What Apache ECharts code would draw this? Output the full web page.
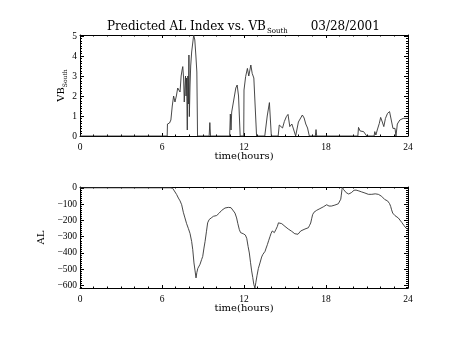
<!DOCTYPE html>
<html>
<head>
<meta charset="utf-8">
<script src="https://cdn.jsdelivr.net/npm/echarts@6/dist/echarts.min.js"></script>
<style>html,body{margin:0;padding:0;background:#fff}#c{width:454px;height:341px}</style>
</head>
<body>
<div id="c"></div>
<script>
// ---- data ----
const xTicks = [0, 6, 12, 18, 24];
const vbTicks = [0, 1, 2, 3, 4, 5];
const alTicks = [0, -100, -200, -300, -400, -500, -600];

const vbTime = [0, 6.38, 6.40, 6.55, 6.65, 6.75, 6.85, 6.95, 7.05, 7.15, 7.25, 7.32, 7.40, 7.47, 7.52, 7.58, 7.63, 7.68, 7.72, 7.76, 7.80, 7.85, 7.89, 7.93, 7.97, 8.00, 8.05, 8.10, 8.17, 8.24, 8.32, 8.40, 8.48, 8.55, 8.60,
  9.45, 9.50, 9.55, 10.95, 11.0, 11.05, 11.1, 11.2, 11.28, 11.4, 11.5, 11.6, 11.72, 11.98, 12.0, 12.12, 12.25, 12.35, 12.5, 12.6, 12.72, 12.85, 12.92,
  13.52, 13.7, 13.86, 14.0, 14.5, 14.58, 14.72, 14.82, 14.95, 15.1, 15.22, 15.35, 15.5, 15.62, 15.78, 15.9, 15.98, 16.1, 16.27, 16.4, 16.52, 16.65, 16.78,
  17.22, 17.27, 17.32, 20.33, 20.38, 20.5, 20.62, 20.75, 20.88, 20.98, 21.52, 21.57, 21.65, 21.75, 21.9, 22.0, 22.12, 22.23, 22.35, 22.5, 22.65, 22.78, 22.9, 23.05, 23.12, 23.15, 23.22, 23.4, 23.65, 24.0];
const vbValue = [0, 0, 0.6, 0.65, 0.8, 1.5, 2.0, 1.7, 2.0, 2.4, 2.3, 2.2, 3.0, 3.3, 3.47, 2.9, 1.7, 2.5, 3.0, 2.0, 2.9, 0.3, 3.0, 1.6, 4.05, 0.97, 2.5, 3.5, 4.2, 4.6, 5.05, 4.8, 4.0, 3.2, 0,
  0, 0.67, 0, 0, 1.1, 0.3, 1.2, 1.6, 1.5, 2.4, 2.55, 2.0, 0, 0, 2.3, 2.97, 3.38, 3.0, 3.55, 3.13, 2.9, 2.8, 0,
  0, 1.0, 1.67, 0, 0, 0.55, 0.6, 0.4, 0.72, 0.97, 1.08, 0.47, 0.6, 0.35, 0, 0, 0.7, 0.8, 1.05, 0.9, 0.6, 0.4, 0,
  0, 0.32, 0, 0, 0.43, 0.25, 0.3, 0.22, 0.2, 0, 0, 0.22, 0.05, 0.3, 0.63, 0.93, 0.7, 0.47, 0.88, 1.13, 1.22, 1.15, 0.38, 0.38, 0, 0, 0.6, 0.8, 0.88, 0.88];

const alTime = [0, 6.6, 6.78, 6.9, 7.07, 7.2, 7.32, 7.44, 7.56, 7.68, 7.8, 7.93, 8.05, 8.17, 8.25, 8.34, 8.42, 8.49, 8.55, 8.62, 8.78, 8.9, 8.98, 9.07, 9.15, 9.25, 9.34, 9.45, 9.6, 9.76, 9.9, 10.0, 10.19, 10.36, 10.5, 10.61, 10.85, 11.05, 11.17, 11.34, 11.46, 11.55, 11.66, 11.75, 11.95, 12.1, 12.2, 12.3, 12.39, 12.48, 12.56, 12.64, 12.72, 12.8, 12.87, 12.95,
  13.05, 13.17, 13.29, 13.37, 13.45, 13.54, 13.62, 13.71, 13.8, 13.9, 13.98, 14.07, 14.14, 14.22, 14.28, 14.34, 14.44, 14.52, 14.6, 14.76, 14.9, 15.0, 15.12, 15.24, 15.36, 15.49, 15.6, 15.72, 15.85, 15.95, 16.05, 16.15, 16.27, 16.46, 16.6, 16.71, 16.8, 16.88, 16.95,
  17.02, 17.12, 17.2, 17.32, 17.44, 17.55, 17.68, 17.8, 17.93, 18.05, 18.12, 18.22, 18.29, 18.4, 18.54, 18.65, 18.78, 18.9, 19.02, 19.08, 19.12, 19.17, 19.2, 19.28, 19.39, 19.48, 19.56, 19.66, 19.76, 19.85, 19.95,
  20.05, 20.12, 20.2, 20.29, 20.4, 20.49, 20.6, 20.73, 20.85, 20.98, 21.1, 21.22, 21.35, 21.46, 21.6, 21.71, 21.83, 21.95, 22.07, 22.19, 22.3, 22.39, 22.5, 22.56, 22.65, 22.73, 22.8, 22.88, 22.95, 23.05, 23.15, 23.29, 23.4, 23.54, 23.62, 23.71, 23.85, 24.0];
const alValue = [0, 0, -3, -15, -41, -63, -80, -104, -150, -185, -220, -250, -280, -330, -380, -461, -510, -553, -520, -495, -470, -440, -421, -370, -330, -270, -215, -195, -185, -175, -175, -170, -155, -139, -128, -124, -120, -122, -124, -155, -185, -220, -257, -275, -282, -290, -310, -360, -400, -460, -510, -550, -594, -615, -580, -540,
  -495, -461, -425, -410, -400, -390, -370, -349, -325, -300, -280, -265, -255, -275, -278, -255, -237, -215, -212, -220, -228, -237, -245, -253, -260, -267, -275, -282, -292, -285, -278, -265, -257, -253, -250, -245, -230, -216, -190,
  -165, -150, -145, -138, -130, -128, -124, -117, -110, -104, -105, -112, -114, -112, -110, -106, -104, -98, -93, -70, -45, -10, 5, -10, -22, -30, -36, -38, -40, -30, -22,
  -15, -12, -14, -16, -19, -22, -25, -28, -32, -36, -40, -42, -40, -38, -37, -38, -40, -44, -52, -63, -72, -77, -80, -83, -97, -114, -135, -155, -165, -171, -177, -185, -197, -212, -222, -232, -247, -255];

// minor tick positions for the AL axis (8 per major step)
const alMinor = [];
alTicks.forEach(t => { for (let k = 1; k < 8; k++) { const v = t - k * 12.5; if (v >= -615) alMinor.push(v); } });

// ---- chart ----
const SERIF = 'DejaVu Serif';
const LAB = 'Liberation Serif';
const black = '#000';

function xAx(grid, pos) {
  const lab = pos === 'bottom';
  return {
    type: 'value', gridIndex: grid, position: pos, min: 0, max: 24, interval: 6,
    axisLine: { show: true, onZero: false, lineStyle: { color: black, width: 1 } },
    axisTick: { show: true, inside: true, length: 3, lineStyle: { color: black } },
    minorTick: { show: true, splitNumber: 6, length: 1.5, lineStyle: { color: black } },
    splitLine: { show: false },
    axisLabel: { show: lab, fontFamily: LAB, fontSize: 9.5, color: black, margin: 6,
      formatter: v => xTicks.includes(v) ? String(v) : '' },
    name: lab ? 'time(hours)' : '', nameLocation: 'middle', nameGap: 15, nameMoveOverlap: false,
    nameTextStyle: { fontFamily: SERIF, fontSize: 10, color: black }
  };
}
const nameRich = {
  v: { fontFamily: SERIF, fontSize: 10, color: black, lineHeight: 12, verticalAlign: 'top' },
  s: { fontFamily: SERIF, fontSize: 6, color: black, lineHeight: 7, padding: [9, 0, 0, 0], verticalAlign: 'bottom' }
};
function vbAx(pos) {
  const lab = pos === 'left';
  return {
    type: 'value', gridIndex: 0, position: pos, min: 0, max: 5.05, interval: 1,
    axisLine: { show: true, onZero: false, lineStyle: { color: black, width: 1 } },
    axisTick: { show: true, inside: true, length: 4, lineStyle: { color: black } },
    minorTick: { show: true, splitNumber: 8, length: 2, lineStyle: { color: black } },
    splitLine: { show: false },
    axisLabel: { show: lab, fontFamily: LAB, fontSize: 9.5, color: black, margin: 3,
      formatter: v => vbTicks.includes(Math.round(v * 1000) / 1000) ? String(v) : '' },
    name: lab ? '{v|VB}{s|South}' : '', nameLocation: 'middle', nameRotate: 90, nameGap: 12,
    nameMoveOverlap: false,
    nameTextStyle: { fontFamily: SERIF, fontSize: 10, color: black, rich: nameRich }
  };
}
function alAx(pos, minor) {
  const lab = pos === 'left' && !minor;
  return {
    type: 'value', gridIndex: 1, position: pos, min: -615, max: 5,
    axisLine: { show: !minor, onZero: false, lineStyle: { color: black, width: 1 } },
    axisTick: { show: true, inside: true, length: minor ? 2 : 4, lineStyle: { color: black },
      customValues: minor ? alMinor : alTicks },
    splitLine: { show: false },
    axisLabel: { show: lab, fontFamily: LAB, fontSize: 9.5, color: black, margin: 3,
      customValues: alTicks, formatter: v => String(v).replace('-', '\u2212') },
    name: lab ? '{v|AL}' : '', nameLocation: 'middle', nameRotate: 90, nameGap: 32,
    nameMoveOverlap: false,
    nameTextStyle: { fontFamily: SERIF, fontSize: 10, color: black, rich: nameRich }
  };
}

const chart = echarts.init(document.getElementById('c'), null, { renderer: 'canvas' });
chart.setOption({
  animation: false,
  backgroundColor: '#fff',
  title: {
    text: '{m|Predicted AL Index vs. VB}{s|South}{m|      03/28/2001}',
    left: 102, top: 16,
    textStyle: {
      fontWeight: 'normal',
      rich: {
        m: { fontFamily: SERIF, fontSize: 12, fontWeight: 'normal', color: black, lineHeight: 14, verticalAlign: 'top' },
        s: { fontFamily: SERIF, fontSize: 7, fontWeight: 'normal', color: black, lineHeight: 8, padding: [12, 0, 0, 1], verticalAlign: 'bottom' }
      }
    }
  },
  grid: [
    { left: 80, width: 328, top: 35, height: 101 },
    { left: 80, width: 328, top: 187, height: 101 }
  ],
  xAxis: [xAx(0, 'bottom'), xAx(0, 'top'), xAx(1, 'bottom'), xAx(1, 'top')],
  yAxis: [vbAx('left'), vbAx('right'), alAx('left', false), alAx('right', false), alAx('left', true), alAx('right', true)],
  series: [
    { type: 'line', xAxisIndex: 0, yAxisIndex: 0, showSymbol: false, symbol: 'none',
      lineStyle: { color: '#333', width: 0.9 }, data: vbTime.map((t, i) => [t, vbValue[i]]) },
    { type: 'line', xAxisIndex: 2, yAxisIndex: 2, showSymbol: false, symbol: 'none',
      lineStyle: { color: '#333', width: 0.9 }, data: alTime.map((t, i) => [t, alValue[i]]) }
  ]
});
</script>
</body>
</html>
